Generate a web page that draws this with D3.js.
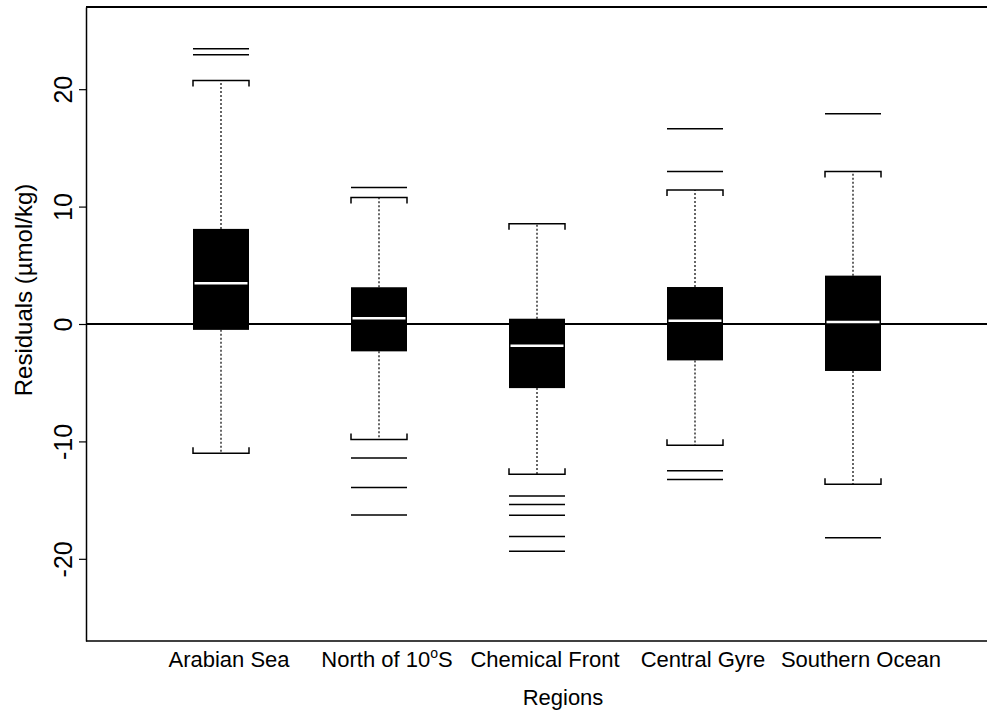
<!DOCTYPE html>
<html>
<head>
<meta charset="utf-8">
<script src="https://cdn.jsdelivr.net/npm/d3@7"></script>
<style>
  html, body { margin: 0; padding: 0; background: #fff; }
  svg { display: block; font-family: "Liberation Sans", Arial, Helvetica, sans-serif; }
</style>
</head>
<body>
<svg id="chart" width="987" height="719"></svg>
<script>
// Residuals by region: box summaries (µmol/kg)
const categories = ["Arabian Sea", "North of 10°S", "Chemical Front", "Central Gyre", "Southern Ocean"];
const whiskerLow  = [-11.0, -9.83, -12.79, -10.32, -13.64];
const q1          = [-0.5,  -2.33, -5.46,  -3.1,   -4.0];
const median      = [3.47,   0.48, -1.85,   0.28,   0.17];
const q3          = [8.1,    3.13,  0.45,   3.15,   4.12];
const whiskerHigh = [20.74, 10.77,  8.53,  11.42,  12.98];
const outliers = [
  [23.44, 22.93],
  [11.62, -11.42, -13.92, -16.26],
  [-14.66, -15.37, -16.28, -18.1, -19.35],
  [16.62, 12.98, -12.5, -13.24],
  [17.9, -18.2]
];
const yTicks = [-20, -10, 0, 10, 20];
const xTitle = "Regions";
const yTitle = "Residuals (µmol/kg)";

const svg = d3.select("#chart");
const plotLeft = 86, plotRight = 987, plotTop = 7, plotBottom = 641;

const y = d3.scaleLinear().domain([-27, 27]).range([plotBottom, plotTop]);
const x = d3.scaleLinear().domain([0, categories.length - 1]).range([221, 853]);
const halfW = 28, capTick = 6;

const rows = categories.map((c, i) => ({
  name: c, i,
  lo: whiskerLow[i], q1: q1[i], med: median[i], q3: q3[i], hi: whiskerHigh[i],
  out: outliers[i]
}));

// frame: top and bottom edges
svg.append("line").attr("x1", plotLeft).attr("x2", plotRight).attr("y1", plotTop).attr("y2", plotTop)
  .attr("stroke", "#000").attr("stroke-width", 2);
svg.append("line").attr("x1", plotLeft).attr("x2", plotRight).attr("y1", plotBottom).attr("y2", plotBottom)
  .attr("stroke", "#000").attr("stroke-width", 1.5);

// zero reference line
svg.append("line").attr("x1", plotLeft).attr("x2", plotRight).attr("y1", y(0)).attr("y2", y(0))
  .attr("stroke", "#000").attr("stroke-width", 2);

const g = svg.selectAll("g.box").data(rows).join("g").attr("class", "box")
  .attr("transform", d => `translate(${x(d.i)},0)`);

// whiskers (dotted)
g.append("line").attr("x1", 0).attr("x2", 0)
  .attr("y1", d => y(d.q3)).attr("y2", d => y(d.hi))
  .attr("stroke", "#000").attr("stroke-width", 1.2).attr("stroke-dasharray", "2,2");
g.append("line").attr("x1", 0).attr("x2", 0)
  .attr("y1", d => y(d.q1)).attr("y2", d => y(d.lo))
  .attr("stroke", "#000").attr("stroke-width", 1.2).attr("stroke-dasharray", "2,2");

// bracket caps
g.append("path")
  .attr("d", d => `M${-halfW},${y(d.hi) + capTick}V${y(d.hi)}H${halfW}V${y(d.hi) + capTick}`)
  .attr("fill", "none").attr("stroke", "#000").attr("stroke-width", 1.5);
g.append("path")
  .attr("d", d => `M${-halfW},${y(d.lo) - capTick}V${y(d.lo)}H${halfW}V${y(d.lo) - capTick}`)
  .attr("fill", "none").attr("stroke", "#000").attr("stroke-width", 1.5);

// boxes
g.append("rect")
  .attr("x", -halfW).attr("width", 2 * halfW)
  .attr("y", d => y(d.q3)).attr("height", d => y(d.q1) - y(d.q3))
  .attr("fill", "#000");

// medians
g.append("line").attr("x1", -halfW + 1.5).attr("x2", halfW - 1.5)
  .attr("y1", d => y(d.med)).attr("y2", d => y(d.med))
  .attr("stroke", "#fff").attr("stroke-width", 2.5);

// outliers as horizontal lines
g.selectAll("line.out").data(d => d.out).join("line").attr("class", "out")
  .attr("x1", -halfW).attr("x2", halfW)
  .attr("y1", v => y(v)).attr("y2", v => y(v))
  .attr("stroke", "#000").attr("stroke-width", 1.5);

// y axis (plain hyphen for negative labels)
const yAxis = svg.append("g").attr("transform", `translate(${plotLeft},0)`)
  .call(d3.axisLeft(y).tickValues(yTicks).tickSize(7).tickSizeOuter(0).tickFormat(d => String(d)));
yAxis.select(".domain").attr("stroke-width", 1.5);
yAxis.selectAll(".tick line").attr("stroke-width", 1.2);
yAxis.selectAll(".tick text")
  .attr("x", 0).attr("y", -23).attr("dy", null)
  .attr("transform", "rotate(-90)")
  .attr("text-anchor", "middle")
  .attr("dominant-baseline", "central")
  .attr("font-size", 25).attr("fill", "#000")
  .attr("font-family", "'Liberation Sans', Arial, sans-serif");

// category labels
const lab = svg.selectAll("text.cat").data(rows).join("text").attr("class", "cat")
  .attr("x", d => x(d.i) + 8).attr("y", 667)
  .attr("text-anchor", "middle").attr("font-size", 22).attr("fill", "#000");
lab.each(function(d) {
  const t = d3.select(this);
  const parts = d.name.split("°");
  if (parts.length === 2) {
    t.append("tspan").text(parts[0]);
    t.append("tspan").attr("font-size", 14).attr("dy", -9).text("o");
    t.append("tspan").attr("dy", 9).text(parts[1]);
  } else {
    t.text(d.name);
  }
});

// axis titles
svg.append("text").attr("x", 563).attr("y", 705).attr("text-anchor", "middle")
  .attr("font-size", 22).attr("fill", "#000").text(xTitle);
svg.append("text").attr("transform", "translate(32,290) rotate(-90)")
  .attr("text-anchor", "middle").attr("font-size", 24).attr("fill", "#000").text(yTitle);
</script>
</body>
</html>
